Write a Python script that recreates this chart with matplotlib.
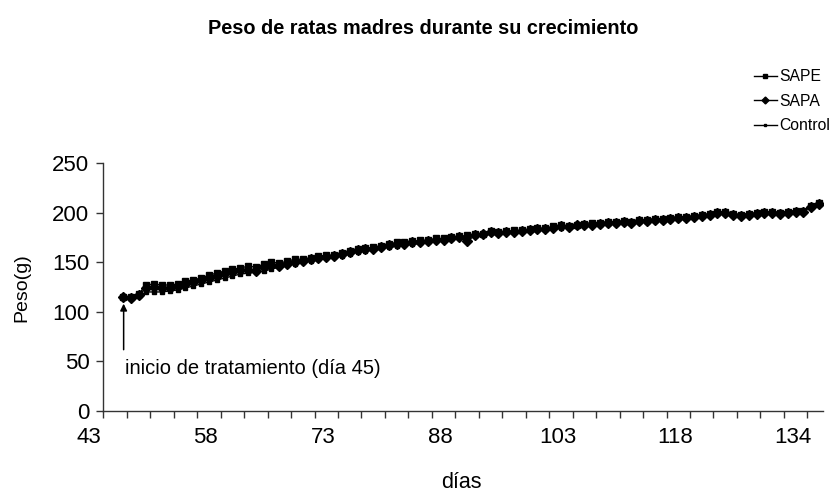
import matplotlib
matplotlib.use("Agg")
import matplotlib.pyplot as plt
import matplotlib.transforms as mtransforms
from matplotlib.lines import Line2D

plt.rcParams['font.family'] = ['Liberation Sans', 'DejaVu Sans']

# Days (categories) of measurement
days = list(range(45, 135))

sape = [115, 115, 118, 127, 128, 127, 127, 128, 131, 132,
        134, 137, 139, 141, 143, 144, 146, 145, 148, 150,
        149, 151, 153, 153, 154, 156, 157, 157, 159, 161,
        163, 164, 165, 166, 168, 170, 170, 171, 172, 172,
        174, 174, 175, 176, 177, 178, 178, 181, 180, 181,
        182, 182, 183, 184, 184, 186, 187, 186, 188, 189,
        190, 190, 191, 191, 192, 191, 193, 193, 194, 194,
        195, 196, 196, 197, 198, 199, 201, 201, 199, 198,
        199, 200, 201, 201, 200, 201, 202, 202, 207, 210]

sapa = [115, 114, 117, 124, 125, 124, 124, 126, 128, 130,
        132, 134, 136, 139, 140, 142, 142, 141, 145, 147,
        146, 148, 150, 151, 153, 154, 155, 156, 158, 160,
        162, 163, 163, 165, 167, 168, 168, 170, 170, 171,
        172, 172, 174, 175, 171, 177, 178, 180, 179, 180,
        180, 181, 182, 183, 183, 184, 186, 185, 187, 188,
        188, 189, 190, 190, 191, 190, 192, 192, 193, 193,
        194, 195, 195, 196, 197, 198, 200, 200, 198, 197,
        198, 199, 200, 200, 199, 200, 201, 201, 206, 209]

control = [115, 114, 116, 120, 120, 120, 121, 122, 124, 126,
           128, 130, 132, 134, 136, 138, 139, 140, 141, 143,
           145, 147, 148, 150, 151, 153, 154, 155, 156, 158,
           160, 161, 163, 164, 165, 166, 167, 168, 169, 170,
           171, 172, 173, 174, 175, 177, 178, 179, 179, 180,
           181, 181, 182, 182, 183, 184, 184, 185, 186, 187,
           187, 188, 189, 189, 190, 190, 191, 191, 192, 192,
           193, 194, 195, 196, 197, 198, 199, 199, 198, 198,
           199, 199, 200, 200, 201, 201, 202, 202, 207, 209]

x_tick_labels = ['43', '58', '73', '88', '103', '118', '134']
y_ticks = [0, 50, 100, 150, 200, 250]

fig = plt.figure(figsize=(8.36, 4.96), dpi=100)
ax = fig.add_axes([103.3 / 836, 85 / 496, (823 - 103.3) / 836, 248 / 496])

ax.plot(days, control, color='black', lw=1.0, marker='s', ms=2.4, label='Control', zorder=3)
ax.plot(days, sapa, color='black', lw=1.0, marker='D', ms=4.8, label='SAPA', zorder=4)
ax.plot(days, sape, color='black', lw=1.0, marker='s', ms=4.8, label='SAPE', zorder=5)

ax.set_xlim(42.5, 134.5)
ax.set_ylim(0, 250)
ax.set_yticks(y_ticks)
ax.tick_params(axis='y', direction='out', length=5, width=1, labelsize=16, pad=5, color='#333333')
ax.set_xticks([])
ax.set_xticks([42.5 + 3 * k for k in range(31)], minor=True)
ax.tick_params(axis='x', which='minor', direction='out', length=5, width=1, color='#333333')
for s in ['top', 'right']:
    ax.spines[s].set_visible(False)
for s in ['left', 'bottom']:
    ax.spines[s].set_color('#333333')
    ax.spines[s].set_linewidth(1)

trans = mtransforms.blended_transform_factory(ax.transData, ax.transAxes)
for k, lab in enumerate(x_tick_labels):
    ax.text(40.6 + 15 * k, -0.105, lab, transform=trans, ha='center', va='center',
            fontsize=16, clip_on=False)

# annotation
ax.annotate('', xy=(45.1, 111), xytext=(45.1, 59),
            arrowprops=dict(arrowstyle='-|>', color='black', lw=1.1, mutation_scale=10))
ax.text(45.3, 43, 'inicio de tratamiento (día 45)', fontsize=14.5, ha='left', va='center')

fig.text(423 / 836, 1 - 29 / 496, 'Peso de ratas madres durante su crecimiento',
         fontsize=14.3, fontweight='bold', ha='center', va='center')
fig.text(461 / 836, 1 - 482 / 496, 'días', fontsize=15.5, ha='center', va='center')
fig.text(22 / 836, 1 - 288 / 496, 'Peso(g)', fontsize=14, rotation=90, ha='center', va='center')

handles = [Line2D([], [], color='black', lw=1.0, marker='s', ms=3.5),
           Line2D([], [], color='black', lw=1.0, marker='D', ms=3.5),
           Line2D([], [], color='black', lw=1.0, marker='s', ms=2.0)]
fig.legend(handles, ['SAPE', 'SAPA', 'Control'], loc='upper left',
           bbox_to_anchor=(754 / 836, 1 - 69 / 496), frameon=False, fontsize=11.3,
           handlelength=1.45, handletextpad=0.15, labelspacing=0.62, borderpad=0,
           borderaxespad=0)

fig.savefig('out.png', dpi=100)
